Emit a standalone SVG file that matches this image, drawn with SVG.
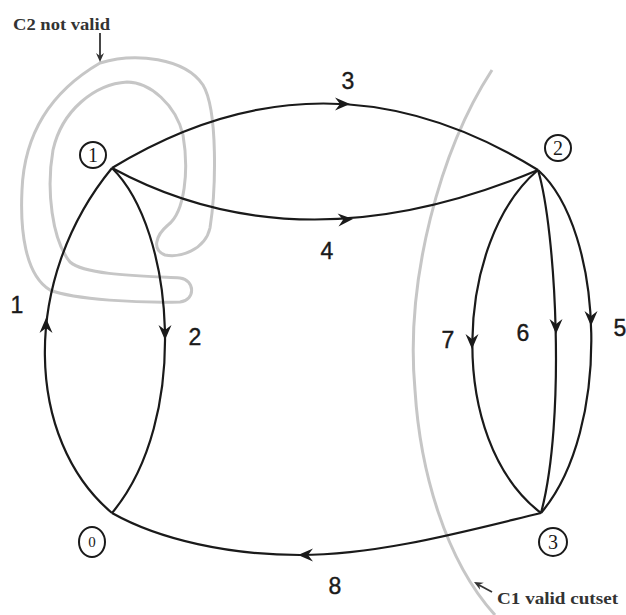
<svg xmlns="http://www.w3.org/2000/svg" width="626" height="615" viewBox="0 0 626 615">
<style>
.edge{fill:none;stroke:#1a1a1a;stroke-width:2.2}
.cut{fill:none;stroke:#c6c6c6;stroke-width:3}
.lbl{font-family:"Liberation Sans",Arial,sans-serif;font-size:23px;fill:#1a1a1a;stroke:#1a1a1a;stroke-width:0.4;text-anchor:middle}
.nd{fill:#fff;stroke:#1a1a1a;stroke-width:2}
.ndt{font-family:"Liberation Serif","Times New Roman",serif;font-size:20px;fill:#1a1a1a;text-anchor:middle}
.note{font-family:"Liberation Serif","Times New Roman",serif;font-weight:bold;font-size:16px;fill:#333}
</style>
<defs>
<path id="ah" d="M0,0 L-15,-6.5 L-10,0 L-15,6.5 Z" fill="#1a1a1a"/>
<path id="sh" d="M0,0 L-9,-4 L-6,0 L-9,4 Z" fill="#333"/>
</defs>
<rect width="626" height="615" fill="#fff"/>
<g id="cutsets">
<path class="cut" d="M100,63 C135,52 185,58 203,85 C218,110 216,190 210,228 C205,250 180,258 165,255 C152,250 155,236 168,225 C185,212 189,170 183,135 C176,105 150,82 127,82 C95,84 62,110 53,150 C46,190 52,240 70,262 C85,275 140,276 180,278 C195,280 196,300 180,302 C140,303 75,300 50,290 C25,275 20,230 22,190 C24,140 45,95 100,63 Z"/>
<path class="cut" d="M492,70 C440,150 405,280 415,390 C420,470 445,560 495,615"/>
<text class="note" x="13" y="30" textLength="97" lengthAdjust="spacingAndGlyphs">C2 not valid</text>
<line x1="100" y1="33" x2="100" y2="56" stroke="#333" stroke-width="1.8"/>
<use href="#sh" transform="translate(100,62) rotate(90)"/>
<text class="note" x="497" y="604" textLength="121" lengthAdjust="spacingAndGlyphs">C1 valid cutset</text>
<line x1="492" y1="592" x2="479" y2="585" stroke="#333" stroke-width="1.8"/>
<use href="#sh" transform="translate(474,582) rotate(208)"/>
</g>
<g id="connectors">
<g id="e1"><path class="edge" d="M112,513 C25,440 20,280 112,168"/><use href="#ah" transform="translate(46,318) rotate(-90)"/><text class="lbl" x="17" y="313">1</text></g>
<g id="e2"><path class="edge" d="M112,168 C175,230 190,420 112,513"/><use href="#ah" transform="translate(165,340) rotate(90)"/><text class="lbl" x="195" y="345">2</text></g>
<g id="e3"><path class="edge" d="M112,168 Q325,38 538,170"/><use href="#ah" transform="translate(350,104) rotate(0)"/><text class="lbl" x="348" y="89">3</text></g>
<g id="e4"><path class="edge" d="M112,168 Q300,270 538,170"/><use href="#ah" transform="translate(353,219) rotate(-4)"/><text class="lbl" x="327" y="259">4</text></g>
<g id="e5"><path class="edge" d="M538,170 C605,230 612,430 541,513"/><use href="#ah" transform="translate(591,326) rotate(90)"/><text class="lbl" x="620" y="336">5</text></g>
<g id="e6"><path class="edge" d="M538,170 C556,230 566,420 541,513"/><use href="#ah" transform="translate(556,334) rotate(90)"/><text class="lbl" x="523" y="341">6</text></g>
<g id="e7"><path class="edge" d="M538,170 C455,240 445,440 541,513"/><use href="#ah" transform="translate(472,349) rotate(90)"/><text class="lbl" x="448" y="348">7</text></g>
<g id="e8"><path class="edge" d="M541,513 C470,530 380,555 300,555 C230,555 160,540 112,513"/><use href="#ah" transform="translate(298,555) rotate(180)"/><text class="lbl" x="335" y="594">8</text></g>
</g>
<g id="n1"><circle class="nd" cx="93" cy="155" r="13"/><text class="ndt" x="93" y="162">1</text></g>
<g id="n2"><circle class="nd" cx="558" cy="148" r="13"/><text class="ndt" x="558" y="155">2</text></g>
<g id="n0"><ellipse class="nd" cx="92" cy="542" rx="13" ry="15"/><text class="ndt" x="92" y="547" style="font-size:15px">0</text></g>
<g id="n3"><circle class="nd" cx="553" cy="542" r="14"/><text class="ndt" x="553" y="549">3</text></g>
</svg>
